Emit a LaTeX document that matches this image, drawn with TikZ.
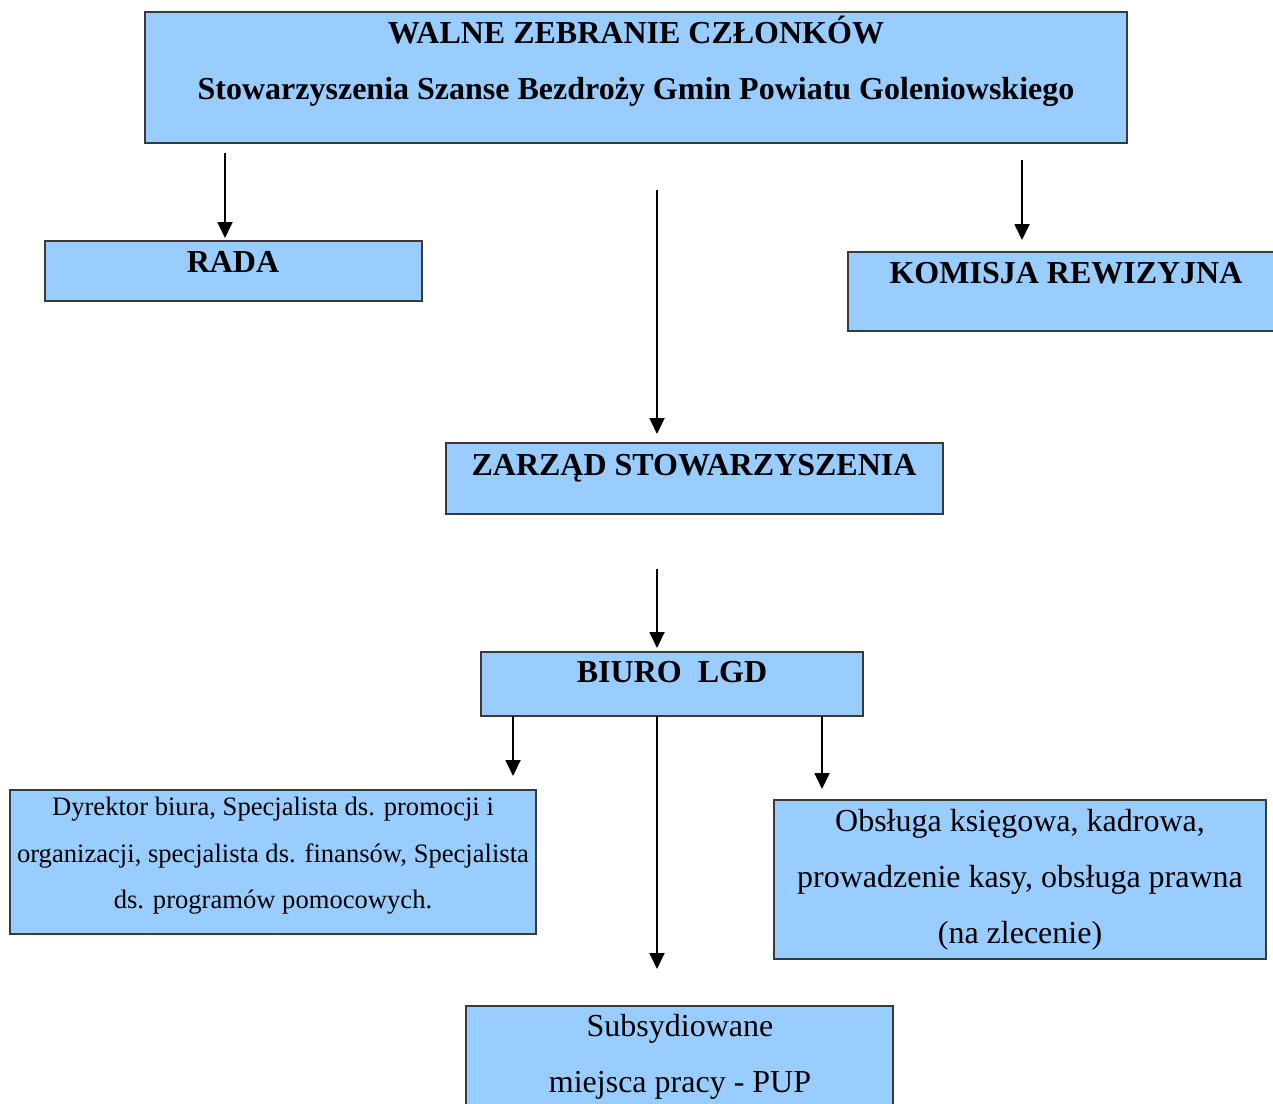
\documentclass[tikz,border=0pt]{standalone}
\usepackage{fontspec}
\setmainfont{Liberation Serif}
\usetikzlibrary{arrows.meta}
\definecolor{boxblue}{HTML}{99CCFF}
\definecolor{boxline}{HTML}{3A3A3A}
\tikzset{
  orgbox/.style={draw=boxline, line width=1.4pt, fill=boxblue, inner sep=0pt, outer sep=0pt},
  boldtxt/.style={font=\fontsize{32}{56}\selectfont\bfseries, align=center, inner sep=0pt},
  bigtxt/.style={font=\fontsize{32}{56}\selectfont, align=center, inner sep=0pt},
  smalltxt/.style={font=\fontsize{26.6}{46.5}\selectfont, align=center, inner sep=0pt},
  arr/.style={line width=1.8pt, -{Triangle[width=15pt,length=16pt]}}
}
\begin{document}
\begin{tikzpicture}[x=1pt,y=-1pt]
\useasboundingbox (0,0) rectangle (1273,1103);
% boxes
\node[orgbox, minimum width=982pt, minimum height=131pt] (walne) at (636,77.5) {};
\node[orgbox, minimum width=377pt, minimum height=60pt] (rada) at (233.5,271) {};
\node[orgbox, minimum width=442pt, minimum height=79pt] (komisja) at (1069,291.5) {};
\node[orgbox, minimum width=497pt, minimum height=71pt] (zarzad) at (694.5,478.5) {};
\node[orgbox, minimum width=382pt, minimum height=64pt] (biuro) at (672,684) {};
\node[orgbox, minimum width=526pt, minimum height=144pt] (dyrektor) at (273,862) {};
\node[orgbox, minimum width=492pt, minimum height=159pt] (obsluga) at (1020,879.5) {};
\node[orgbox, minimum width=427pt, minimum height=114pt] (subsyd) at (679.5,1063) {};
% texts
\node[boldtxt] (walnetxt) at (636,61) {WALNE ZEBRANIE CZŁONKÓW\\Stowarzyszenia Szanse Bezdroży Gmin Powiatu Goleniowskiego};
\node[boldtxt] (radatxt) at (233,262) {RADA};
\node[boldtxt] (komisjatxt) at (1066,273) {KOMISJA REWIZYJNA};
\node[boldtxt] (zarzadtxt) at (694,468) {ZARZĄD STOWARZYSZENIA};
\node[boldtxt] (biurotxt) at (672,672) {BIURO\ \ LGD};
\node[smalltxt] (dyrektortxt) at (273,856) {Dyrektor biura, Specjalista ds. promocji i\\organizacji, specjalista ds. finansów, Specjalista\\ds. programów pomocowych.};
\node[bigtxt] (obslugatxt) at (1020,879.5) {Obsługa księgowa, kadrowa,\\prowadzenie kasy, obsługa prawna\\(na zlecenie)};
\node[bigtxt] (subsydtxt) at (680,1057) {Subsydiowane\\miejsca pracy - PUP};
% arrow columns
\coordinate (c1) at (225,0);
\coordinate (c2) at (657,0);
\coordinate (c3) at (1022,0);
\coordinate (c4) at (513,0);
\coordinate (c5) at (822,0);
% connectors
\draw[arr, shorten <=10pt, shorten >=3pt] (walne.south -| c1) -- (rada.north -| c1);
\draw[arr, shorten <=47pt, shorten >=9pt] (walne.south -| c2) -- (zarzad.north -| c2);
\draw[arr, shorten <=17pt, shorten >=12pt] (walne.south -| c3) -- (komisja.north -| c3);
\draw[arr, shorten <=55pt, shorten >=4pt] (zarzad.south -| c2) -- (biuro.north -| c2);
\draw[arr, shorten >=14pt] (biuro.south -| c4) -- (dyrektor.north -| c4);
\draw[arr, shorten >=11pt] (biuro.south -| c5) -- (obsluga.north -| c5);
\draw[arr, shorten >=37pt] (biuro.south -| c2) -- (subsyd.north -| c2);
\end{tikzpicture}
\end{document}
